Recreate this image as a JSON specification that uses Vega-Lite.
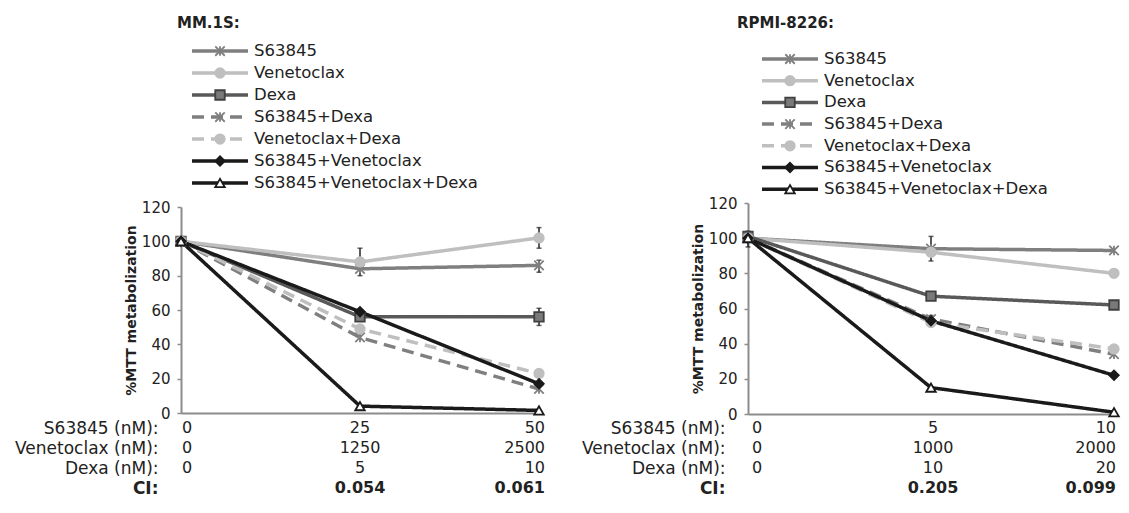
{
  "$schema": "https://vega.github.io/schema/vega-lite/v6.json",
  "background": "white",
  "padding": {"left": 14, "top": 16, "right": 5, "bottom": 5},
  "config": {
    "view": {"stroke": null},
    "font": "DejaVu Sans",
    "axisY": {"values": [0, 20, 40, 60, 80, 100, 120], "tickCount": 7, "labelOverlap": false, "grid": false, "domainColor": "#8c8c8c", "domainWidth": 2, "tickColor": "#8c8c8c", "tickSize": 4, "tickWidth": 1.5, "labelFont": "DejaVu Sans", "labelFontSize": 15, "labelColor": "#222", "labelPadding": 7, "titleFont": "DejaVu Sans", "titleFontSize": 14, "titleFontWeight": "bold", "titleColor": "#222", "titlePadding": 3},
    "axisX": {"labels": false, "ticks": false, "grid": false, "domainColor": "#8c8c8c", "domainWidth": 2}
  },
  "datasets": {
    "pts": [
      {"panel": "A", "series": "S63845", "dose": 0, "val": 100},
      {"panel": "A", "series": "S63845", "dose": 25, "val": 84},
      {"panel": "A", "series": "S63845", "dose": 50, "val": 86},
      {"panel": "A", "series": "Venetoclax", "dose": 0, "val": 100},
      {"panel": "A", "series": "Venetoclax", "dose": 25, "val": 88},
      {"panel": "A", "series": "Venetoclax", "dose": 50, "val": 102},
      {"panel": "A", "series": "Dexa", "dose": 0, "val": 100},
      {"panel": "A", "series": "Dexa", "dose": 25, "val": 56},
      {"panel": "A", "series": "Dexa", "dose": 50, "val": 56},
      {"panel": "A", "series": "S63845+Dexa", "dose": 0, "val": 100},
      {"panel": "A", "series": "S63845+Dexa", "dose": 25, "val": 44},
      {"panel": "A", "series": "S63845+Dexa", "dose": 50, "val": 14},
      {"panel": "A", "series": "Venetoclax+Dexa", "dose": 0, "val": 100},
      {"panel": "A", "series": "Venetoclax+Dexa", "dose": 25, "val": 49},
      {"panel": "A", "series": "Venetoclax+Dexa", "dose": 50, "val": 23},
      {"panel": "A", "series": "S63845+Venetoclax", "dose": 0, "val": 100},
      {"panel": "A", "series": "S63845+Venetoclax", "dose": 25, "val": 59},
      {"panel": "A", "series": "S63845+Venetoclax", "dose": 50, "val": 17},
      {"panel": "A", "series": "S63845+Venetoclax+Dexa", "dose": 0, "val": 100},
      {"panel": "A", "series": "S63845+Venetoclax+Dexa", "dose": 25, "val": 4},
      {"panel": "A", "series": "S63845+Venetoclax+Dexa", "dose": 50, "val": 1.5},
      {"panel": "B", "series": "S63845", "dose": 0, "val": 100},
      {"panel": "B", "series": "S63845", "dose": 5, "val": 94},
      {"panel": "B", "series": "S63845", "dose": 10, "val": 93},
      {"panel": "B", "series": "Venetoclax", "dose": 0, "val": 100},
      {"panel": "B", "series": "Venetoclax", "dose": 5, "val": 92},
      {"panel": "B", "series": "Venetoclax", "dose": 10, "val": 80},
      {"panel": "B", "series": "Dexa", "dose": 0, "val": 101},
      {"panel": "B", "series": "Dexa", "dose": 5, "val": 67},
      {"panel": "B", "series": "Dexa", "dose": 10, "val": 62},
      {"panel": "B", "series": "S63845+Dexa", "dose": 0, "val": 100},
      {"panel": "B", "series": "S63845+Dexa", "dose": 5, "val": 54},
      {"panel": "B", "series": "S63845+Dexa", "dose": 10, "val": 34},
      {"panel": "B", "series": "Venetoclax+Dexa", "dose": 0, "val": 100},
      {"panel": "B", "series": "Venetoclax+Dexa", "dose": 5, "val": 52},
      {"panel": "B", "series": "Venetoclax+Dexa", "dose": 10, "val": 37},
      {"panel": "B", "series": "S63845+Venetoclax", "dose": 0, "val": 100},
      {"panel": "B", "series": "S63845+Venetoclax", "dose": 5, "val": 53},
      {"panel": "B", "series": "S63845+Venetoclax", "dose": 10, "val": 22},
      {"panel": "B", "series": "S63845+Venetoclax+Dexa", "dose": 0, "val": 100},
      {"panel": "B", "series": "S63845+Venetoclax+Dexa", "dose": 5, "val": 15},
      {"panel": "B", "series": "S63845+Venetoclax+Dexa", "dose": 10, "val": 1}
    ],
    "err": [
      {"panel": "A", "series": "Venetoclax", "dose": 25, "lo": 80, "hi": 96},
      {"panel": "A", "series": "Venetoclax", "dose": 50, "lo": 96, "hi": 108},
      {"panel": "A", "series": "S63845", "dose": 50, "lo": 82, "hi": 89},
      {"panel": "A", "series": "Dexa", "dose": 50, "lo": 51, "hi": 61},
      {"panel": "B", "series": "S63845", "dose": 5, "lo": 87, "hi": 101},
      {"panel": "B", "series": "S63845+Venetoclax", "dose": 5, "lo": 50, "hi": 56},
      {"panel": "B", "series": "Dexa", "dose": 0, "lo": 95, "hi": 104}
    ],
    "legend": [
      {"series": "S63845"},
      {"series": "Venetoclax"},
      {"series": "Dexa"},
      {"series": "S63845+Dexa"},
      {"series": "Venetoclax+Dexa"},
      {"series": "S63845+Venetoclax"},
      {"series": "S63845+Venetoclax+Dexa"}
    ],
    "table": [
      {"panel": "A", "row": "S63845 (nM):", "col": 0, "dose": 0, "label": "0"},
      {"panel": "A", "row": "S63845 (nM):", "col": 1, "dose": 25, "label": "25"},
      {"panel": "A", "row": "S63845 (nM):", "col": 2, "dose": 50, "label": "50"},
      {"panel": "A", "row": "Venetoclax (nM):", "col": 0, "dose": 0, "label": "0"},
      {"panel": "A", "row": "Venetoclax (nM):", "col": 1, "dose": 25, "label": "1250"},
      {"panel": "A", "row": "Venetoclax (nM):", "col": 2, "dose": 50, "label": "2500"},
      {"panel": "A", "row": "Dexa (nM):", "col": 0, "dose": 0, "label": "0"},
      {"panel": "A", "row": "Dexa (nM):", "col": 1, "dose": 25, "label": "5"},
      {"panel": "A", "row": "Dexa (nM):", "col": 2, "dose": 50, "label": "10"},
      {"panel": "A", "row": "CI:", "col": 1, "dose": 25, "label": "0.054"},
      {"panel": "A", "row": "CI:", "col": 2, "dose": 50, "label": "0.061"},
      {"panel": "B", "row": "S63845 (nM):", "col": 0, "dose": 0, "label": "0"},
      {"panel": "B", "row": "S63845 (nM):", "col": 1, "dose": 5, "label": "5"},
      {"panel": "B", "row": "S63845 (nM):", "col": 2, "dose": 10, "label": "10"},
      {"panel": "B", "row": "Venetoclax (nM):", "col": 0, "dose": 0, "label": "0"},
      {"panel": "B", "row": "Venetoclax (nM):", "col": 1, "dose": 5, "label": "1000"},
      {"panel": "B", "row": "Venetoclax (nM):", "col": 2, "dose": 10, "label": "2000"},
      {"panel": "B", "row": "Dexa (nM):", "col": 0, "dose": 0, "label": "0"},
      {"panel": "B", "row": "Dexa (nM):", "col": 1, "dose": 5, "label": "10"},
      {"panel": "B", "row": "Dexa (nM):", "col": 2, "dose": 10, "label": "20"},
      {"panel": "B", "row": "CI:", "col": 1, "dose": 5, "label": "0.205"},
      {"panel": "B", "row": "CI:", "col": 2, "dose": 10, "label": "0.099"}
    ]
  },
  "hconcat": [
    {
      "vconcat": [
        {
          "width": 358, "height": 171,
          "title": {"text": "MM.1S:", "anchor": "start", "font": "DejaVu Sans", "fontSize": 15, "fontWeight": "bold", "color": "#222", "offset": -10, "dx": -4, "baseline": "bottom"},
          "data": {"name": "legend"},
          "encoding": {
            "y": {"field": "series", "type": "nominal", "scale": {"type": "point", "domain": ["S63845", "Venetoclax", "Dexa", "S63845+Dexa", "Venetoclax+Dexa", "S63845+Venetoclax", "S63845+Venetoclax+Dexa"], "padding": 0.886, "align": 0.385}, "axis": null}
          },
          "layer": [
            {
              "mark": {"type": "rule", "strokeWidth": 3.5},
              "encoding": {
                "x": {"datum": 0, "type": "quantitative", "scale": {"domain": [-11, 347], "nice": false, "zero": false}, "axis": null},
                "x2": {"datum": 56},
                "color": {"field": "series", "type": "nominal", "legend": null, "scale": {"domain": ["S63845", "Venetoclax", "Dexa", "S63845+Dexa", "Venetoclax+Dexa", "S63845+Venetoclax", "S63845+Venetoclax+Dexa"], "range": ["#7f7f7f", "#bfbfbf", "#595959", "#7f7f7f", "#bfbfbf", "#1a1a1a", "#1a1a1a"]}},
                "strokeDash": {"field": "series", "type": "nominal", "legend": null, "scale": {"domain": ["S63845", "Venetoclax", "Dexa", "S63845+Dexa", "Venetoclax+Dexa", "S63845+Venetoclax", "S63845+Venetoclax+Dexa"], "range": [[1, 0], [1, 0], [1, 0], [12, 7], [12, 7], [1, 0], [1, 0]]}}
              }
            },
            {
              "mark": {"type": "point", "filled": true, "opacity": 1, "size": 90, "strokeWidth": 1.8},
              "encoding": {
                "x": {"datum": 28, "type": "quantitative"},
                "shape": {"field": "series", "type": "nominal", "legend": null, "scale": {"domain": ["S63845", "Venetoclax", "Dexa", "S63845+Dexa", "Venetoclax+Dexa", "S63845+Venetoclax", "S63845+Venetoclax+Dexa"], "range": ["M-1,-1L1,1M-1,1L1,-1M0,-1L0,1", "circle", "square", "M-1,-1L1,1M-1,1L1,-1M0,-1L0,1", "circle", "diamond", "triangle-up"]}},
                "fill": {"field": "series", "type": "nominal", "legend": null, "scale": {"domain": ["S63845", "Venetoclax", "Dexa", "S63845+Dexa", "Venetoclax+Dexa", "S63845+Venetoclax", "S63845+Venetoclax+Dexa"], "range": ["#7f7f7f", "#bfbfbf", "#7a7a7a", "#7f7f7f", "#bfbfbf", "#1a1a1a", "#ffffff"]}},
                "stroke": {"field": "series", "type": "nominal", "legend": null, "scale": {"domain": ["S63845", "Venetoclax", "Dexa", "S63845+Dexa", "Venetoclax+Dexa", "S63845+Venetoclax", "S63845+Venetoclax+Dexa"], "range": ["#7f7f7f", "#bfbfbf", "#404040", "#7f7f7f", "#bfbfbf", "#1a1a1a", "#1a1a1a"]}}
              }
            },
            {
              "mark": {"type": "text", "align": "left", "baseline": "middle", "font": "DejaVu Sans", "fontSize": 16.5, "color": "#222"},
              "encoding": {
                "x": {"datum": 62, "type": "quantitative"},
                "text": {"field": "series"}
              }
            }
          ]
        },
        {
          "width": 358, "height": 206,
          "layer": [
            {
              "data": {"name": "pts"},
              "transform": [{"filter": "datum.panel === 'A'"}],
              "mark": {"type": "line", "strokeWidth": 3.5},
              "encoding": {
                "x": {"field": "dose", "type": "quantitative", "scale": {"domain": [0, 50], "nice": false}, "title": null},
                "y": {"field": "val", "type": "quantitative", "scale": {"domain": [0, 120], "nice": false}, "title": "%MTT metabolization"},
                "color": {"field": "series", "type": "nominal", "legend": null, "scale": {"domain": ["S63845", "Venetoclax", "Dexa", "S63845+Dexa", "Venetoclax+Dexa", "S63845+Venetoclax", "S63845+Venetoclax+Dexa"], "range": ["#7f7f7f", "#bfbfbf", "#595959", "#7f7f7f", "#bfbfbf", "#1a1a1a", "#1a1a1a"]}},
                "strokeDash": {"field": "series", "type": "nominal", "legend": null, "scale": {"domain": ["S63845", "Venetoclax", "Dexa", "S63845+Dexa", "Venetoclax+Dexa", "S63845+Venetoclax", "S63845+Venetoclax+Dexa"], "range": [[1, 0], [1, 0], [1, 0], [12, 7], [12, 7], [1, 0], [1, 0]]}}
              }
            },
            {
              "data": {"name": "err"},
              "transform": [{"filter": "datum.panel === 'A'"}],
              "mark": {"type": "errorbar", "ticks": true, "thickness": 1.5, "color": "#222"},
              "encoding": {
                "x": {"field": "dose", "type": "quantitative", "title": null},
                "y": {"field": "lo", "type": "quantitative", "title": "%MTT metabolization"},
                "y2": {"field": "hi"}
              }
            },
            {
              "data": {"name": "pts"},
              "transform": [{"filter": "datum.panel === 'A'"}],
              "mark": {"type": "point", "filled": true, "opacity": 1, "size": 90, "strokeWidth": 1.8},
              "encoding": {
                "x": {"field": "dose", "type": "quantitative", "title": null},
                "y": {"field": "val", "type": "quantitative", "title": "%MTT metabolization"},
                "shape": {"field": "series", "type": "nominal", "legend": null, "scale": {"domain": ["S63845", "Venetoclax", "Dexa", "S63845+Dexa", "Venetoclax+Dexa", "S63845+Venetoclax", "S63845+Venetoclax+Dexa"], "range": ["M-1,-1L1,1M-1,1L1,-1M0,-1L0,1", "circle", "square", "M-1,-1L1,1M-1,1L1,-1M0,-1L0,1", "circle", "diamond", "triangle-up"]}},
                "fill": {"field": "series", "type": "nominal", "legend": null, "scale": {"domain": ["S63845", "Venetoclax", "Dexa", "S63845+Dexa", "Venetoclax+Dexa", "S63845+Venetoclax", "S63845+Venetoclax+Dexa"], "range": ["#7f7f7f", "#bfbfbf", "#7a7a7a", "#7f7f7f", "#bfbfbf", "#1a1a1a", "#ffffff"]}},
                "stroke": {"field": "series", "type": "nominal", "legend": null, "scale": {"domain": ["S63845", "Venetoclax", "Dexa", "S63845+Dexa", "Venetoclax+Dexa", "S63845+Venetoclax", "S63845+Venetoclax+Dexa"], "range": ["#7f7f7f", "#bfbfbf", "#404040", "#7f7f7f", "#bfbfbf", "#1a1a1a", "#1a1a1a"]}}
              }
            }
          ]
        },
        {
          "width": 358, "height": 92,
          "data": {"name": "table"},
          "transform": [{"filter": "datum.panel === 'A'"}],
          "encoding": {
            "y": {"field": "row", "type": "nominal", "scale": {"type": "point", "domain": ["S63845 (nM):", "Venetoclax (nM):", "Dexa (nM):", "CI:"], "padding": 0.8, "align": 0.469}, "axis": {"title": null, "domain": false, "ticks": false, "tickSize": 0, "values": ["S63845 (nM):", "Venetoclax (nM):", "Dexa (nM):", "CI:"], "labelPadding": 23, "labelFont": "DejaVu Sans", "labelFontSize": 17, "labelColor": "#222", "labelFontWeight": {"condition": {"test": "datum.value === 'CI:'", "value": "bold"}, "value": "normal"}}},
            "x": {"field": "dose", "type": "quantitative", "scale": {"domain": [0, 50], "nice": false}, "axis": null},
            "text": {"field": "label"}
          },
          "layer": [
            {"transform": [{"filter": "datum.col === 0"}], "mark": {"type": "text", "align": "left", "dx": 1, "baseline": "middle", "font": "DejaVu Sans", "fontSize": 16, "color": "#222"}},
            {"transform": [{"filter": "datum.col === 1 && datum.row !== 'CI:'"}], "mark": {"type": "text", "align": "center", "baseline": "middle", "font": "DejaVu Sans", "fontSize": 16, "color": "#222"}},
            {"transform": [{"filter": "datum.col === 2 && datum.row !== 'CI:'"}], "mark": {"type": "text", "align": "right", "dx": 6, "baseline": "middle", "font": "DejaVu Sans", "fontSize": 16, "color": "#222"}},
            {"transform": [{"filter": "datum.col === 1 && datum.row === 'CI:'"}], "mark": {"type": "text", "align": "center", "baseline": "middle", "font": "DejaVu Sans", "fontSize": 16, "fontWeight": "bold", "color": "#222"}},
            {"transform": [{"filter": "datum.col === 2 && datum.row === 'CI:'"}], "mark": {"type": "text", "align": "right", "dx": 6, "baseline": "middle", "font": "DejaVu Sans", "fontSize": 16, "fontWeight": "bold", "color": "#222"}}
          ]
        }
      ],
      "spacing": 0,
      "bounds": "flush"
    },
    {
      "vconcat": [
        {
          "width": 366, "height": 167,
          "title": {"text": "RPMI-8226:", "anchor": "start", "font": "DejaVu Sans", "fontSize": 15, "fontWeight": "bold", "color": "#222", "offset": -10, "dx": -11, "baseline": "bottom"},
          "data": {"name": "legend"},
          "encoding": {
            "y": {"field": "series", "type": "nominal", "scale": {"type": "point", "domain": ["S63845", "Venetoclax", "Dexa", "S63845+Dexa", "Venetoclax+Dexa", "S63845+Venetoclax", "S63845+Venetoclax+Dexa"], "padding": 0.848, "align": 0.625}, "axis": null}
          },
          "layer": [
            {
              "mark": {"type": "rule", "strokeWidth": 3.5},
              "encoding": {
                "x": {"datum": 0, "type": "quantitative", "scale": {"domain": [-14, 352], "nice": false, "zero": false}, "axis": null},
                "x2": {"datum": 56},
                "color": {"field": "series", "type": "nominal", "legend": null, "scale": {"domain": ["S63845", "Venetoclax", "Dexa", "S63845+Dexa", "Venetoclax+Dexa", "S63845+Venetoclax", "S63845+Venetoclax+Dexa"], "range": ["#7f7f7f", "#bfbfbf", "#595959", "#7f7f7f", "#bfbfbf", "#1a1a1a", "#1a1a1a"]}},
                "strokeDash": {"field": "series", "type": "nominal", "legend": null, "scale": {"domain": ["S63845", "Venetoclax", "Dexa", "S63845+Dexa", "Venetoclax+Dexa", "S63845+Venetoclax", "S63845+Venetoclax+Dexa"], "range": [[1, 0], [1, 0], [1, 0], [12, 7], [12, 7], [1, 0], [1, 0]]}}
              }
            },
            {
              "mark": {"type": "point", "filled": true, "opacity": 1, "size": 90, "strokeWidth": 1.8},
              "encoding": {
                "x": {"datum": 28, "type": "quantitative"},
                "shape": {"field": "series", "type": "nominal", "legend": null, "scale": {"domain": ["S63845", "Venetoclax", "Dexa", "S63845+Dexa", "Venetoclax+Dexa", "S63845+Venetoclax", "S63845+Venetoclax+Dexa"], "range": ["M-1,-1L1,1M-1,1L1,-1M0,-1L0,1", "circle", "square", "M-1,-1L1,1M-1,1L1,-1M0,-1L0,1", "circle", "diamond", "triangle-up"]}},
                "fill": {"field": "series", "type": "nominal", "legend": null, "scale": {"domain": ["S63845", "Venetoclax", "Dexa", "S63845+Dexa", "Venetoclax+Dexa", "S63845+Venetoclax", "S63845+Venetoclax+Dexa"], "range": ["#7f7f7f", "#bfbfbf", "#7a7a7a", "#7f7f7f", "#bfbfbf", "#1a1a1a", "#ffffff"]}},
                "stroke": {"field": "series", "type": "nominal", "legend": null, "scale": {"domain": ["S63845", "Venetoclax", "Dexa", "S63845+Dexa", "Venetoclax+Dexa", "S63845+Venetoclax", "S63845+Venetoclax+Dexa"], "range": ["#7f7f7f", "#bfbfbf", "#404040", "#7f7f7f", "#bfbfbf", "#1a1a1a", "#1a1a1a"]}}
              }
            },
            {
              "mark": {"type": "text", "align": "left", "baseline": "middle", "font": "DejaVu Sans", "fontSize": 16.5, "color": "#222"},
              "encoding": {
                "x": {"datum": 62, "type": "quantitative"},
                "text": {"field": "series"}
              }
            }
          ]
        },
        {
          "width": 366, "height": 211,
          "layer": [
            {
              "data": {"name": "pts"},
              "transform": [{"filter": "datum.panel === 'B'"}],
              "mark": {"type": "line", "strokeWidth": 3.5},
              "encoding": {
                "x": {"field": "dose", "type": "quantitative", "scale": {"domain": [0, 10], "nice": false}, "title": null},
                "y": {"field": "val", "type": "quantitative", "scale": {"domain": [0, 120], "nice": false}, "title": "%MTT metabolization"},
                "color": {"field": "series", "type": "nominal", "legend": null, "scale": {"domain": ["S63845", "Venetoclax", "Dexa", "S63845+Dexa", "Venetoclax+Dexa", "S63845+Venetoclax", "S63845+Venetoclax+Dexa"], "range": ["#7f7f7f", "#bfbfbf", "#595959", "#7f7f7f", "#bfbfbf", "#1a1a1a", "#1a1a1a"]}},
                "strokeDash": {"field": "series", "type": "nominal", "legend": null, "scale": {"domain": ["S63845", "Venetoclax", "Dexa", "S63845+Dexa", "Venetoclax+Dexa", "S63845+Venetoclax", "S63845+Venetoclax+Dexa"], "range": [[1, 0], [1, 0], [1, 0], [12, 7], [12, 7], [1, 0], [1, 0]]}}
              }
            },
            {
              "data": {"name": "err"},
              "transform": [{"filter": "datum.panel === 'B'"}],
              "mark": {"type": "errorbar", "ticks": true, "thickness": 1.5, "color": "#222"},
              "encoding": {
                "x": {"field": "dose", "type": "quantitative", "title": null},
                "y": {"field": "lo", "type": "quantitative", "title": "%MTT metabolization"},
                "y2": {"field": "hi"}
              }
            },
            {
              "data": {"name": "pts"},
              "transform": [{"filter": "datum.panel === 'B'"}],
              "mark": {"type": "point", "filled": true, "opacity": 1, "size": 90, "strokeWidth": 1.8},
              "encoding": {
                "x": {"field": "dose", "type": "quantitative", "title": null},
                "y": {"field": "val", "type": "quantitative", "title": "%MTT metabolization"},
                "shape": {"field": "series", "type": "nominal", "legend": null, "scale": {"domain": ["S63845", "Venetoclax", "Dexa", "S63845+Dexa", "Venetoclax+Dexa", "S63845+Venetoclax", "S63845+Venetoclax+Dexa"], "range": ["M-1,-1L1,1M-1,1L1,-1M0,-1L0,1", "circle", "square", "M-1,-1L1,1M-1,1L1,-1M0,-1L0,1", "circle", "diamond", "triangle-up"]}},
                "fill": {"field": "series", "type": "nominal", "legend": null, "scale": {"domain": ["S63845", "Venetoclax", "Dexa", "S63845+Dexa", "Venetoclax+Dexa", "S63845+Venetoclax", "S63845+Venetoclax+Dexa"], "range": ["#7f7f7f", "#bfbfbf", "#7a7a7a", "#7f7f7f", "#bfbfbf", "#1a1a1a", "#ffffff"]}},
                "stroke": {"field": "series", "type": "nominal", "legend": null, "scale": {"domain": ["S63845", "Venetoclax", "Dexa", "S63845+Dexa", "Venetoclax+Dexa", "S63845+Venetoclax", "S63845+Venetoclax+Dexa"], "range": ["#7f7f7f", "#bfbfbf", "#404040", "#7f7f7f", "#bfbfbf", "#1a1a1a", "#1a1a1a"]}}
              }
            }
          ]
        },
        {
          "width": 366, "height": 91,
          "data": {"name": "table"},
          "transform": [{"filter": "datum.panel === 'B'"}],
          "encoding": {
            "y": {"field": "row", "type": "nominal", "scale": {"type": "point", "domain": ["S63845 (nM):", "Venetoclax (nM):", "Dexa (nM):", "CI:"], "padding": 0.775, "align": 0.452}, "axis": {"title": null, "domain": false, "ticks": false, "tickSize": 0, "values": ["S63845 (nM):", "Venetoclax (nM):", "Dexa (nM):", "CI:"], "labelPadding": 23, "labelFont": "DejaVu Sans", "labelFontSize": 17, "labelColor": "#222", "labelFontWeight": {"condition": {"test": "datum.value === 'CI:'", "value": "bold"}, "value": "normal"}}},
            "x": {"field": "dose", "type": "quantitative", "scale": {"domain": [0, 10], "nice": false}, "axis": null},
            "text": {"field": "label"}
          },
          "layer": [
            {"transform": [{"filter": "datum.col === 0"}], "mark": {"type": "text", "align": "left", "dx": 4, "baseline": "middle", "font": "DejaVu Sans", "fontSize": 16, "color": "#222"}},
            {"transform": [{"filter": "datum.col === 1 && datum.row !== 'CI:'"}], "mark": {"type": "text", "align": "center", "dx": 2, "baseline": "middle", "font": "DejaVu Sans", "fontSize": 16, "color": "#222"}},
            {"transform": [{"filter": "datum.col === 2 && datum.row !== 'CI:'"}], "mark": {"type": "text", "align": "right", "dx": 2, "baseline": "middle", "font": "DejaVu Sans", "fontSize": 16, "color": "#222"}},
            {"transform": [{"filter": "datum.col === 1 && datum.row === 'CI:'"}], "mark": {"type": "text", "align": "center", "dx": 2, "baseline": "middle", "font": "DejaVu Sans", "fontSize": 16, "fontWeight": "bold", "color": "#222"}},
            {"transform": [{"filter": "datum.col === 2 && datum.row === 'CI:'"}], "mark": {"type": "text", "align": "right", "dx": 2, "baseline": "middle", "font": "DejaVu Sans", "fontSize": 16, "fontWeight": "bold", "color": "#222"}}
          ]
        }
      ],
      "spacing": 0,
      "bounds": "flush"
    }
  ],
  "spacing": 567,
  "bounds": "flush"
}
